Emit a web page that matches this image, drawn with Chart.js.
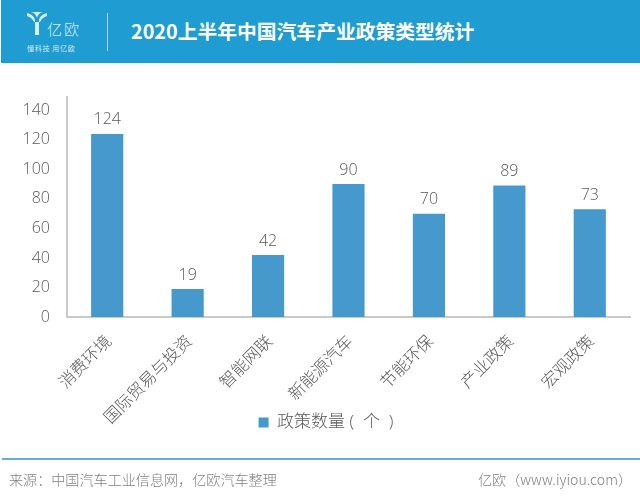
<!DOCTYPE html>
<html>
<head>
<meta charset="utf-8">
<script src="https://cdn.jsdelivr.net/npm/chart.js@4/dist/chart.umd.min.js"></script>
<style>
html, body { margin: 0; padding: 0; background: #fff; }
body { position: relative; width: 640px; height: 500px; overflow: hidden; font-family: "Noto Sans CJK SC", "Open Sans", sans-serif; }
canvas { position: absolute; left: 0; top: 0; }
#header { position: absolute; left: 1px; top: 0; width: 639px; height: 63px; background: #1f9dd2; color: #fff; }
#logo { position: absolute; left: 26px; top: 12px; }
#brand { position: absolute; left: 46px; top: 20px; font-size: 15px; line-height: 18px; font-weight: 300; letter-spacing: 2px; color: #d5eef8; }
#slogan { position: absolute; left: 26px; top: 44px; font-size: 7px; line-height: 8px; letter-spacing: 0.7px; color: #cfeaf6; white-space: nowrap; }
#divider { position: absolute; left: 106px; top: 13px; width: 1px; height: 38px; background: #a9dbf0; }
#title { position: absolute; left: 130px; top: 17px; font-size: 19.8px; line-height: 28px; font-weight: 700; white-space: nowrap; }
#rule { position: absolute; left: 2px; top: 458px; width: 638px; height: 2px; background: #5fb0e0; }
.foot { position: absolute; top: 469px; font-size: 14.1px; line-height: 20px; color: #808080; white-space: nowrap; font-weight: 300; }
</style>
</head>
<body>
<canvas id="chart" width="640" height="500"></canvas>
<div id="header">
  <svg id="logo" width="20" height="24" viewBox="0 0 20 24">
    <path d="M0 1 C4 2 7 4 8 8 L8 23 L12 23 L12 8 C13 4 16 2 20 1 L20 4 C17 5 14 7 13 10 L7 10 C6 7 3 5 0 4 Z M3 0 C6 0 9 2 10 6 C11 2 14 0 17 0 Z" fill="#d5eef8"/>
  </svg>
  <div id="brand">亿欧</div>
  <div id="slogan">懂科技 用亿欧</div>
  <div id="divider"></div>
  <div id="title">2020上半年中国汽车产业政策类型统计</div>
</div>
<div id="rule"></div>
<div class="foot" style="left:9px">来源：中国汽车工业信息网，亿欧汽车整理</div>
<div class="foot" style="right:8px">亿欧（www.iyiou.com）</div>
<script>
const categories = ['消费环境', '国际贸易与投资', '智能网联', '新能源汽车', '节能环保', '产业政策', '宏观政策'];
const policyCounts = [124, 19, 42, 90, 70, 89, 73];
const yTicks = [0, 20, 40, 60, 80, 100, 120, 140];
const seriesName = '政策数量 (  个  )';

const fontFamily = '"Open Sans", "Noto Sans CJK SC", sans-serif';
const textColor = '#595959';
const axisColor = '#c9c9c9';
const barColor = '#4599cd';

// value labels above the bars
const valueLabels = {
    id: 'valueLabels',
    afterDatasetsDraw(chart) {
        const ctx = chart.ctx;
        const meta = chart.getDatasetMeta(0);
        ctx.save();
        ctx.font = '300 16px ' + fontFamily;
        ctx.fillStyle = textColor;
        ctx.textAlign = 'center';
        ctx.textBaseline = 'bottom';
        meta.data.forEach((bar, i) => {
            ctx.fillText(policyCounts[i], bar.x, bar.y - 6);
        });
        ctx.restore();
    }
};

// the long rotated label needs a tall x axis, so pull the legend back up beside it
const legendShift = {
    id: 'legendShift',
    afterLayout(chart) {
        const legend = chart.legend;
        legend.top -= 18;
        legend.bottom -= 18;
        legend.left += 1;
        legend.right += 1;
    }
};

new Chart(document.getElementById('chart').getContext('2d'), {
    type: 'bar',
    data: {
        labels: categories,
        datasets: [{
            label: seriesName,
            data: policyCounts,
            backgroundColor: barColor,
            categoryPercentage: 1,
            barPercentage: 0.4
        }]
    },
    plugins: [valueLabels, legendShift],
    options: {
        responsive: false,
        animation: false,
        layout: { padding: { top: 97, left: 20, right: 10, bottom: 41 } },
        plugins: {
            tooltip: { enabled: false },
            legend: {
                position: 'bottom',
                labels: {
                    boxWidth: 10,
                    boxHeight: 10,
                    padding: 4,
                    color: textColor,
                    font: { family: fontFamily, size: 17, weight: '300' }
                }
            }
        },
        scales: {
            x: {
                grid: { display: false },
                border: { display: true, color: axisColor, width: 2 },
                ticks: {
                    color: textColor,
                    font: { family: fontFamily, size: 16.6, weight: '300' },
                    minRotation: 45,
                    maxRotation: 45,
                    padding: 7,
                    labelOffset: 2,
                    autoSkip: false
                },
                afterFit(scale) { scale.height = 111; }
            },
            y: {
                min: 0,
                max: 149,
                grid: { display: false },
                border: { display: true, color: axisColor, width: 2 },
                ticks: {
                    color: textColor,
                    font: { family: fontFamily, size: 16, weight: '300' },
                    padding: 9
                },
                afterBuildTicks(scale) { scale.ticks = yTicks.map(v => ({ value: v })); },
                afterFit(scale) { scale.width = 47; }
            }
        }
    }
});
</script>
</body>
</html>
